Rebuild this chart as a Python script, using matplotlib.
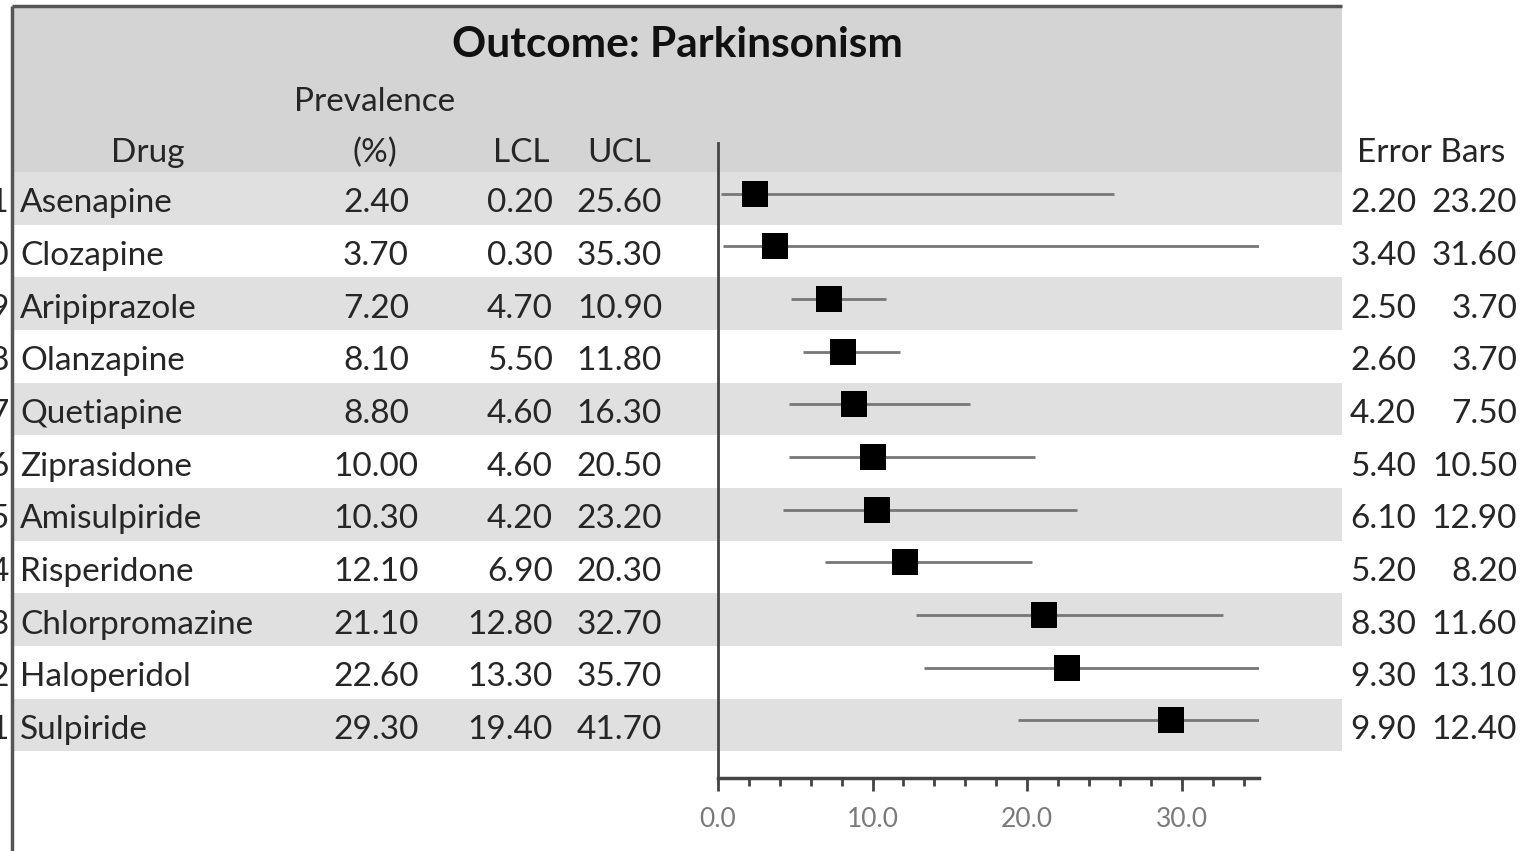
import numpy as np
import matplotlib.pyplot as plt

# Table data
drugs = ['Asenapine', 'Clozapine', 'Aripiprazole', 'Olanzapine', 'Quetiapine',
         'Ziprasidone', 'Amisulpiride', 'Risperidone', 'Chlorpromazine',
         'Haloperidol', 'Sulpiride']
row_ids = [11, 10, 9, 8, 7, 6, 5, 4, 3, 2, 1]
prevalence = [2.40, 3.70, 7.20, 8.10, 8.80, 10.00, 10.30, 12.10, 21.10, 22.60, 29.30]
lcl = [0.20, 0.30, 4.70, 5.50, 4.60, 4.60, 4.20, 6.90, 12.80, 13.30, 19.40]
ucl = [25.60, 35.30, 10.90, 11.80, 16.30, 20.50, 23.20, 20.30, 32.70, 35.70, 41.70]
err_lo = [2.20, 3.40, 2.50, 2.60, 4.20, 5.40, 6.10, 5.20, 8.30, 9.30, 9.90]
err_hi = [23.20, 31.60, 3.70, 3.70, 7.50, 10.50, 12.90, 8.20, 11.60, 13.10, 12.40]
x_ticks = [0, 10, 20, 30]

W, H = 1526, 851
fig = plt.figure(figsize=(W / 100, H / 100), dpi=100)
plt.rcParams['font.family'] = ['Lato', 'DejaVu Sans']

# background / table axes in pixel coordinates
bg = fig.add_axes([0, 0, 1, 1])
bg.set_xlim(0, W)
bg.set_ylim(H, 0)
bg.axis('off')

row0 = 198.5
pitch = 52.65
txt = '#262626'
fs = 24

# header block and alternating row bands
bg.fill_between([14, 1342], 8, 172, color='#d4d4d4', lw=0)
for i in range(len(drugs)):
    yc = row0 + i * pitch
    if i % 2 == 0:
        bg.fill_between([14, 1342], yc - pitch / 2, yc + pitch / 2, color='#e0e0e0', lw=0)

# frame lines
bg.plot([12, 12], [6, H], color='#555555', lw=2.5, solid_capstyle='butt')
bg.plot([12, 1342], [6, 6], color='#555555', lw=2.5, solid_capstyle='butt')

bg.text(677, 45, 'Outcome: Parkinsonism', ha='center', va='center',
        fontsize=30.5, fontweight='bold', color='#111111')
bg.text(375, 102, 'Prevalence', ha='center', va='center', fontsize=fs, color=txt)
bg.text(148, 153, 'Drug', ha='center', va='center', fontsize=fs, color=txt)
bg.text(375, 153, '(%)', ha='center', va='center', fontsize=fs, color=txt)
bg.text(521, 153, 'LCL', ha='center', va='center', fontsize=fs, color=txt)
bg.text(619, 153, 'UCL', ha='center', va='center', fontsize=fs, color=txt)
bg.text(1431, 153, 'Error Bars', ha='center', va='center', fontsize=fs, color=txt)

for i, d in enumerate(drugs):
    yc = row0 + i * pitch + 5
    bg.text(9, yc, str(row_ids[i]), ha='right', va='center', fontsize=fs, color=txt)
    bg.text(20, yc, d, ha='left', va='center', fontsize=fs, color=txt)
    bg.text(376, yc, f'{prevalence[i]:.2f}', ha='center', va='center', fontsize=fs, color=txt)
    bg.text(553, yc, f'{lcl[i]:.2f}', ha='right', va='center', fontsize=fs, color=txt)
    bg.text(662, yc, f'{ucl[i]:.2f}', ha='right', va='center', fontsize=fs, color=txt)
    bg.text(1416, yc, f'{err_lo[i]:.2f}', ha='right', va='center', fontsize=fs, color=txt)
    bg.text(1517, yc, f'{err_hi[i]:.2f}', ha='right', va='center', fontsize=fs, color=txt)

# forest plot axes
x0, x1, y_top, y_bot = 718, 1259, 143, 778
ax = fig.add_axes([x0 / W, 1 - y_bot / H, (x1 - x0) / W, (y_bot - y_top) / H])
ax.patch.set_alpha(0)
ax.set_xlim(0, 35)
ax.set_ylim((y_bot - row0) / pitch, (y_top - row0) / pitch)

ypos = np.arange(len(drugs)) - 0.09
for i in range(len(drugs)):
    ax.plot([lcl[i], min(ucl[i], 35)], [ypos[i], ypos[i]], color='#777777', lw=2,
            solid_capstyle='butt')
ax.plot(prevalence, ypos, 's', color='black', markersize=19, markeredgewidth=0)

for s in ['top', 'right']:
    ax.spines[s].set_visible(False)
ax.spines['left'].set_color('#444444')
ax.spines['bottom'].set_color('#444444')
ax.spines['left'].set_linewidth(2)
ax.spines['bottom'].set_linewidth(2.5)
ax.set_yticks([])
ax.set_xticks(x_ticks)
ax.set_xticklabels([f'{t:.1f}' for t in x_ticks], fontsize=19, color='#7a7a7a')
ax.set_xticks(np.arange(0, 35, 2), minor=True)
ax.tick_params(axis='x', which='major', length=9, width=2, color='#444444', pad=12)
ax.tick_params(axis='x', which='minor', length=6, width=2, color='#444444')

fig.savefig('out.png', dpi=100)
